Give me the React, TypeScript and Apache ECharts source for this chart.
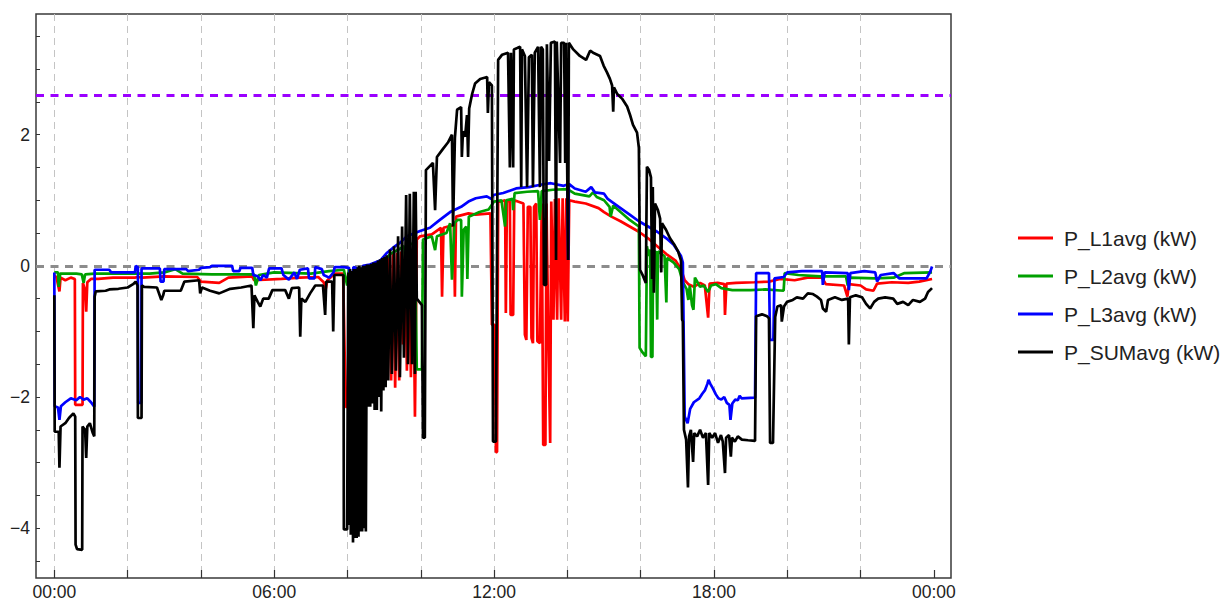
import React, { useEffect, useRef } from 'react';
import * as echarts from 'echarts';

// ---- data: [hour of day, kW] ----
const l1Data: [number, number][] = [
  [0.0, -0.14], [0.06, -0.18], [0.14, -0.39], [0.17, -0.18], [0.3, -0.22], [0.45, -0.18], [0.56, -0.2],
  [0.57, -2.12], [0.77, -2.12], [0.78, -0.26], [0.84, -0.37], [0.87, -0.7], [0.9, -0.25], [1.0, -0.2],
  [1.2, -0.2], [1.6, -0.18], [2.2, -0.18], [2.28, -0.17], [2.4, -0.18], [3.0, -0.16], [3.9, -0.17],
  [4.0, -0.24], [4.5, -0.26], [4.75, -0.18], [5.4, -0.16], [5.45, -0.22], [6.2, -0.2], [6.7, -0.18],
  [7.2, -0.17], [7.35, -0.25], [7.4, -0.37], [7.45, -0.22], [7.65, -0.12], [7.88, -0.12],
  [7.95, -2.15], [8.01, -2.15], [8.04, -0.2], [8.09, -1.9], [8.15, -0.2], [8.2, -1.85], [8.26, -0.15],
  [8.31, -1.9], [8.37, -0.1], [8.42, -2.0], [8.48, -0.1], [8.53, -1.9], [8.59, -0.05], [8.64, -1.85],
  [8.7, 0.0], [8.75, -1.8], [8.81, 0.05], [8.86, -1.75], [8.92, 0.08], [8.97, -1.8], [9.02, 0.1],
  [9.08, -1.7], [9.13, 0.15], [9.19, -1.75], [9.24, 0.2], [9.3, -1.86], [9.35, 0.2], [9.41, -1.75],
  [9.46, 0.22], [9.51, -1.2], [9.57, 0.25], [9.62, -1.6], [9.68, 0.28], [9.73, -1.7], [9.79, 0.3],
  [9.84, -2.3], [9.89, 0.4], [9.98, 0.45], [10.3, 0.48], [10.55, 0.58], [10.58, -0.47], [10.62, 0.58],
  [10.9, 0.62], [10.93, -0.47], [10.96, 0.75], [11.3, 0.8], [11.5, 0.78], [11.9, 0.8], [11.94, -0.9],
  [12.02, -0.9], [12.05, -2.84], [12.08, -2.84], [12.11, 0.97], [12.3, 1.0], [12.32, -0.72], [12.35, 1.0],
  [12.43, 0.98], [12.45, -0.75], [12.52, -0.75], [12.55, 1.0], [12.8, 0.95], [12.84, -1.05], [12.88, -1.13],
  [12.92, 0.9], [12.99, 0.9], [13.02, -1.1], [13.06, -1.18], [13.09, 0.9], [13.15, 0.95], [13.18, -1.15],
  [13.25, -1.18], [13.3, 0.95], [13.34, -2.73], [13.4, -2.73], [13.43, 0.95], [13.48, -1.1], [13.53, -2.7],
  [13.56, 0.98], [13.62, -0.82], [13.66, 1.02], [13.72, -0.82], [13.76, 1.03], [13.83, -0.82], [13.87, 1.03],
  [13.93, -0.85], [13.97, 1.03], [14.01, -0.85], [14.05, 1.0], [14.2, 0.98], [14.5, 0.95], [14.85, 0.88],
  [15.0, 0.82], [15.2, 0.75], [15.45, 0.68], [15.7, 0.6], [15.95, 0.52], [16.2, 0.42], [16.45, 0.3],
  [16.7, 0.18], [16.95, 0.08], [17.1, -0.05], [17.2, -0.22], [17.3, -0.28], [17.45, -0.32], [17.62, -0.26],
  [17.75, -0.3], [17.84, -0.79], [17.88, -0.27], [18.1, -0.26], [18.28, -0.28], [18.3, -0.75], [18.34, -0.27],
  [18.6, -0.26], [19.1, -0.25], [19.5, -0.24], [19.8, -0.2], [20.2, -0.22], [20.55, -0.18], [20.95, -0.18],
  [21.05, -0.28], [21.55, -0.3], [21.64, -0.47], [21.68, -0.28], [22.0, -0.3], [22.15, -0.36], [22.35, -0.38],
  [22.45, -0.27], [22.85, -0.25], [23.3, -0.26], [23.6, -0.24], [23.95, -0.2],
];

const l2Data: [number, number][] = [
  [0.0, -0.1], [0.1, -0.1], [0.12, -0.32], [0.16, -0.12], [0.6, -0.12], [0.75, -0.13], [0.8, -0.26],
  [0.84, -0.13], [1.1, -0.12], [2.0, -0.12], [2.6, -0.12], [3.0, -0.1], [3.3, -0.05], [3.5, -0.12],
  [4.3, -0.13], [5.45, -0.13], [5.5, -0.3], [5.58, -0.14], [6.0, -0.1], [7.0, -0.12], [7.5, -0.08],
  [7.9, -0.06], [7.99, -0.3], [8.04, -0.05], [8.15, -1.9], [8.2, -1.85], [8.26, -2.3], [8.31, -2.35],
  [8.37, -1.95], [8.42, -0.05], [8.5, -0.1], [8.61, 0.0], [8.75, -0.05], [8.89, 0.06], [9.05, 0.1],
  [9.16, 0.18], [9.3, 0.22], [9.43, 0.26], [9.55, 0.3], [9.62, -0.26], [9.66, 0.32], [9.84, 0.35],
  [9.89, -1.58], [10.03, -1.58], [10.06, 0.4], [10.3, 0.45], [10.39, 0.24], [10.44, 0.45], [10.7, 0.5],
  [10.8, 0.65], [10.85, -0.21], [10.92, 0.65], [11.0, 0.7], [11.1, 0.7], [11.12, -0.47], [11.17, 0.55],
  [11.24, 0.6], [11.27, -0.2], [11.31, 0.75], [11.6, 0.82], [11.85, 0.86], [12.0, 0.98], [12.2, 1.0],
  [12.3, 0.6], [12.33, 1.0], [12.5, 1.02], [12.52, 0.85], [12.56, 1.11], [12.9, 1.13], [13.2, 1.14],
  [13.25, 0.7], [13.3, 1.14], [13.6, 1.16], [14.0, 1.17], [14.2, 1.1], [14.6, 1.06], [14.7, 1.12],
  [14.8, 1.05], [15.0, 1.0], [15.15, 0.9], [15.18, 0.75], [15.25, 0.92], [15.45, 0.82], [15.7, 0.7],
  [15.95, 0.6], [15.97, -1.25], [16.05, -1.32], [16.14, -1.38], [16.17, 0.3], [16.22, 0.15], [16.26, 0.25],
  [16.28, -1.39], [16.32, -1.39], [16.34, 0.2], [16.42, 0.22], [16.45, -0.82], [16.47, 0.22], [16.65, 0.15],
  [16.7, -0.56], [16.72, 0.12], [16.9, 0.05], [17.05, -0.05], [17.15, -0.25], [17.25, -0.35], [17.3, -0.52],
  [17.34, -0.3], [17.4, -0.6], [17.44, -0.67], [17.48, -0.18], [17.55, -0.25], [17.62, -0.32], [17.72, -0.3],
  [17.84, -0.4], [17.92, -0.3], [18.05, -0.28], [18.2, -0.34], [18.5, -0.37], [19.0, -0.37], [19.4, -0.36],
  [19.9, -0.38], [19.93, -0.11], [20.3, -0.14], [20.9, -0.16], [21.6, -0.16], [21.65, -0.3], [21.7, -0.18],
  [22.4, -0.19], [22.9, -0.18], [23.2, -0.11], [23.95, -0.1],
];

const l3Data: [number, number][] = [
  [0.0, -0.1], [0.01, -2.14], [0.1, -2.16], [0.14, -2.35], [0.18, -2.14], [0.3, -2.08], [0.45, -2.02],
  [0.6, -2.05], [0.7, -2.0], [0.8, -2.04], [0.9, -2.02], [1.0, -2.08], [1.09, -2.15], [1.1, -0.06],
  [1.5, -0.06], [1.55, -0.1], [2.2, -0.1], [2.22, 0.0], [2.28, -0.02], [2.29, -2.09], [2.37, -2.09],
  [2.38, -0.04], [2.88, -0.04], [2.9, -0.24], [2.98, -0.24], [3.0, -0.05], [3.6, -0.05], [3.65, -0.08],
  [3.95, -0.06], [4.0, -0.03], [4.25, -0.02], [4.3, 0.0], [4.85, 0.0], [4.88, -0.08], [5.05, -0.08],
  [5.08, -0.03], [5.4, -0.03], [5.43, -0.14], [5.55, -0.16], [5.62, -0.22], [5.7, -0.14], [5.8, -0.18],
  [5.86, -0.04], [6.2, -0.04], [6.25, -0.14], [6.4, -0.21], [6.55, -0.1], [6.62, -0.2], [6.7, -0.06],
  [6.92, -0.04], [6.95, -0.19], [7.1, -0.19], [7.12, -0.02], [7.3, -0.05], [7.35, -0.14], [7.5, -0.18],
  [7.62, -0.1], [7.65, -0.02], [7.9, -0.02], [8.04, -0.03], [8.12, -0.35], [8.16, -0.02], [8.32, -0.05],
  [8.34, -0.82], [8.4, -0.82], [8.42, 0.0], [8.61, 0.02], [8.89, 0.08], [9.08, 0.2], [9.3, 0.3],
  [9.43, 0.35], [9.62, 0.45], [9.98, 0.53], [10.25, 0.58], [10.52, 0.7], [10.8, 0.82], [11.1, 0.9],
  [11.3, 0.98], [11.5, 1.03], [11.8, 1.06], [11.92, 1.02], [11.98, 1.08], [12.25, 1.11], [12.6, 1.18],
  [12.95, 1.2], [13.3, 1.24], [13.55, 1.26], [13.9, 1.22], [14.0, 1.24], [14.02, 0.09], [14.04, 1.25],
  [14.2, 1.18], [14.5, 1.13], [14.65, 1.2], [14.75, 1.12], [15.0, 1.1], [15.1, 1.02], [15.25, 0.96],
  [15.45, 0.88], [15.7, 0.78], [15.95, 0.68], [16.2, 0.6], [16.45, 0.52], [16.7, 0.42], [16.9, 0.32],
  [17.1, 0.15], [17.15, 0.05], [17.2, -2.3], [17.28, -2.4], [17.35, -2.18], [17.45, -2.08], [17.6, -2.02],
  [17.68, -1.95], [17.75, -1.9], [17.82, -1.8], [17.85, -1.74], [17.9, -1.8], [17.98, -1.88], [18.05, -1.96],
  [18.12, -2.02], [18.2, -2.04], [18.28, -2.0], [18.35, -2.09], [18.42, -2.12], [18.45, -2.35], [18.5, -2.1],
  [18.58, -2.04], [18.65, -2.05], [18.7, -1.98], [18.75, -2.02], [19.12, -2.01], [19.15, -0.11], [19.5, -0.11],
  [19.53, -1.13], [19.62, -1.13], [19.65, -0.19], [19.9, -0.17], [20.0, -0.1], [20.4, -0.08], [20.95, -0.08],
  [20.97, -0.29], [21.02, -0.1], [21.65, -0.11], [21.68, -0.37], [21.72, -0.11], [22.1, -0.08], [22.4, -0.1],
  [22.45, -0.24], [22.55, -0.14], [22.9, -0.11], [23.05, -0.19], [23.8, -0.19], [23.9, -0.09], [23.95, -0.01],
];

const sumData: [number, number][] = [
  [0.0, -0.45], [0.01, -2.53], [0.12, -2.53], [0.14, -3.08], [0.17, -2.45], [0.3, -2.4], [0.4, -2.32],
  [0.52, -2.25], [0.57, -2.3], [0.58, -4.25], [0.62, -4.32], [0.76, -4.33], [0.77, -2.45], [0.84, -2.5],
  [0.87, -2.93], [0.9, -2.45], [0.97, -2.4], [1.05, -2.55], [1.09, -2.6], [1.1, -0.47], [1.13, -0.39],
  [1.4, -0.38], [1.5, -0.36], [1.75, -0.35], [2.0, -0.33], [2.15, -0.28], [2.22, -0.24], [2.27, -0.3],
  [2.28, -2.32], [2.38, -2.32], [2.39, -0.3], [2.45, -0.32], [2.8, -0.33], [2.92, -0.52], [2.97, -0.45],
  [3.0, -0.38], [3.45, -0.38], [3.55, -0.24], [3.95, -0.22], [3.98, -0.42], [4.03, -0.33], [4.25, -0.38],
  [4.5, -0.42], [4.8, -0.35], [5.1, -0.33], [5.38, -0.3], [5.43, -0.95], [5.46, -0.45], [5.55, -0.55],
  [5.62, -0.62], [5.7, -0.5], [5.85, -0.5], [5.95, -0.37], [6.3, -0.37], [6.4, -0.5], [6.48, -0.34],
  [6.68, -0.33], [6.71, -1.08], [6.74, -0.5], [6.85, -0.55], [6.98, -0.42], [7.12, -0.3], [7.33, -0.3],
  [7.39, -0.75], [7.42, -0.24], [7.58, -0.24], [7.61, -1.0], [7.64, -0.14], [7.89, -0.14],
  [7.9, -4.02], [7.99, -4.02], [8.02, -0.1], [8.05, -3.95], [8.07, -0.05], [8.09, -4.1], [8.12, -0.08],
  [8.15, -4.22], [8.17, -0.05], [8.2, -4.15], [8.23, -0.05], [8.25, -4.15], [8.28, -0.02], [8.3, -4.13],
  [8.32, 0.0], [8.35, -4.05], [8.38, -0.02], [8.4, -4.05], [8.43, 0.0], [8.46, -4.0], [8.48, 0.0],
  [8.5, -4.05], [8.53, 0.02], [8.56, -2.15], [8.59, 0.02], [8.62, -2.15], [8.65, 0.03], [8.68, -2.1],
  [8.71, 0.05], [8.74, -2.2], [8.77, 0.05], [8.8, -2.2], [8.83, 0.08], [8.86, -2.0], [8.89, 0.1],
  [8.92, -2.22], [8.95, 0.12], [8.98, -1.9], [9.01, 0.14], [9.04, -1.85], [9.07, 0.16], [9.11, -1.75],
  [9.16, 0.25], [9.21, -1.65], [9.27, 0.3], [9.32, -1.6], [9.38, 0.45], [9.43, -1.7], [9.49, 0.6],
  [9.54, -1.4], [9.6, 1.08], [9.65, -1.5], [9.7, 1.1], [9.76, -1.5], [9.81, 1.13], [9.84, -1.65],
  [9.86, 1.13], [9.89, -0.5], [10.03, -0.6], [10.06, -2.62], [10.11, -2.62], [10.14, 1.46], [10.33, 1.57],
  [10.39, 0.85], [10.44, 1.66], [10.6, 1.78], [10.74, 1.88], [10.85, 2.0], [10.88, 0.6], [10.93, 1.95],
  [10.99, 2.38], [11.1, 2.42], [11.12, 1.66], [11.15, 2.05], [11.21, 1.97], [11.26, 2.3], [11.29, 1.66],
  [11.32, 2.4], [11.4, 2.62], [11.48, 2.78], [11.62, 2.85], [11.81, 2.88], [11.83, 2.33], [11.86, 2.8],
  [11.94, 2.75], [11.97, -2.68], [12.05, -2.68], [12.11, 3.14], [12.22, 3.22], [12.38, 3.25], [12.43, 1.5],
  [12.46, 3.25], [12.52, 1.5], [12.54, 3.3], [12.63, 3.32], [12.71, 3.34], [12.74, 1.2], [12.76, 3.3],
  [12.84, 3.2], [12.9, 1.2], [12.95, 3.18], [13.03, 3.22], [13.06, 1.2], [13.11, 3.25], [13.2, 3.34],
  [13.25, 1.2], [13.28, 3.34], [13.33, 3.3], [13.36, -0.29], [13.42, -0.29], [13.44, 3.38], [13.5, 1.6],
  [13.55, 3.4], [13.66, 3.42], [13.69, 0.09], [13.71, 3.42], [13.8, 1.57], [13.83, 3.4], [13.91, 3.4],
  [13.94, 1.57], [13.96, 3.4], [14.02, 0.09], [14.04, 3.4], [14.16, 3.3], [14.34, 3.2], [14.51, 3.14],
  [14.62, 3.28], [14.7, 3.25], [14.89, 3.2], [14.99, 3.05], [15.08, 2.95], [15.16, 2.85], [15.22, 2.75],
  [15.25, 2.35], [15.27, 2.72], [15.36, 2.62], [15.49, 2.55], [15.63, 2.43], [15.71, 2.3], [15.79, 2.15],
  [15.9, 2.03], [15.95, 1.8], [15.98, -0.06], [16.06, -0.15], [16.14, -0.26], [16.17, 1.51], [16.23, 1.46],
  [16.28, 1.35], [16.31, -0.2], [16.33, 1.2], [16.36, -0.41], [16.39, 0.95], [16.47, 0.85], [16.53, 0.72],
  [16.56, -0.1], [16.58, 0.65], [16.69, 0.55], [16.8, 0.42], [16.91, 0.33], [17.02, 0.22], [17.1, 0.08],
  [17.13, -0.82], [17.15, -0.85], [17.18, -2.5], [17.24, -2.65], [17.29, -3.38], [17.32, -2.6], [17.37, -2.5],
  [17.43, -2.99], [17.46, -2.55], [17.54, -2.6], [17.62, -2.5], [17.7, -2.62], [17.78, -2.55], [17.84, -3.34],
  [17.87, -2.55], [17.95, -2.62], [18.03, -2.55], [18.11, -2.7], [18.19, -2.58], [18.24, -2.68], [18.3, -3.16],
  [18.33, -2.62], [18.41, -2.58], [18.46, -2.91], [18.49, -2.62], [18.57, -2.68], [18.65, -2.6], [18.76, -2.65],
  [18.93, -2.66], [19.12, -2.67], [19.15, -0.77], [19.31, -0.74], [19.45, -0.77], [19.5, -0.8], [19.53, -2.7],
  [19.61, -2.7], [19.67, -0.78], [19.73, -0.62], [19.83, -0.6], [19.85, -0.85], [19.91, -0.62], [19.99, -0.55],
  [20.15, -0.52], [20.26, -0.48], [20.43, -0.5], [20.56, -0.42], [20.7, -0.43], [20.81, -0.47], [20.92, -0.52],
  [20.97, -0.65], [21.06, -0.7], [21.11, -0.52], [21.3, -0.48], [21.49, -0.52], [21.66, -0.5], [21.68, -1.2],
  [21.71, -0.48], [21.87, -0.45], [22.04, -0.48], [22.15, -0.58], [22.26, -0.65], [22.37, -0.55], [22.48, -0.5],
  [22.67, -0.48], [22.89, -0.5], [23.0, -0.58], [23.16, -0.55], [23.3, -0.6], [23.43, -0.52], [23.62, -0.55],
  [23.76, -0.5], [23.84, -0.4], [23.95, -0.34],
];

const seriesNames = ['P_L1avg (kW)', 'P_L2avg (kW)', 'P_L3avg (kW)', 'P_SUMavg (kW)'];
const seriesColors = ['#ff0000', '#00a000', '#0000ff', '#000000'];
const seriesData = [l1Data, l2Data, l3Data, sumData];
const limitValue = 2.6;
const zeroValue = 0;

const FONT = '"Liberation Sans", Arial, sans-serif';

export default function App() {
  const ref = useRef<HTMLDivElement>(null);

  useEffect(() => {
    document.body.style.margin = '0';
    const chart = echarts.init(ref.current!, null, { renderer: 'svg' });

    // frame geometry
    const fL = 36, fT = 14, fR = 951, fB = 578;
    const xMin = -0.5, xMax = 24.467, yMin = -4.76, yMax = 3.84;
    const pxPerH = (fR - fL) / (xMax - xMin);
    const pxPerV = (fB - fT) / (yMax - yMin);
    const x0 = fL + (0 - xMin) * pxPerH;
    const yTop35 = fT + (yMax - 3.5) * pxPerV;
    const yBot45 = fT + (yMax + 4.5) * pxPerV;

    const option: any = {
      animation: false,
      textStyle: { fontFamily: FONT },
      grid: [
        { left: fL, top: fT, width: fR - fL, height: fB - fT, show: true, borderColor: '#3a3a3a', borderWidth: 1.5, backgroundColor: 'transparent' },
        { left: x0, top: fT, width: 24 * pxPerH, height: fB - fT },
        { left: fL, top: yTop35, width: fR - fL, height: yBot45 - yTop35 },
      ],
      xAxis: [
        { gridIndex: 0, type: 'value', min: xMin, max: xMax, show: false },
        {
          gridIndex: 1, type: 'value', min: 0, max: 24, interval: 2,
          axisLine: { show: false },
          axisTick: { show: true, inside: true, length: 8, lineStyle: { color: '#333', width: 1.2 } },
          axisLabel: {
            margin: 5, fontSize: 17.5, color: '#222', fontFamily: FONT,
            formatter: (v: number) => (v % 6 === 0 ? String(v % 24).padStart(2, '0') + ':00' : ''),
          },
          splitLine: { show: true, showMaxLine: false, lineStyle: { color: '#c4c4c4', type: [7, 5], width: 1 } },
        },
        { gridIndex: 2, type: 'value', min: 0, max: 1, show: false },
      ],
      yAxis: [
        { gridIndex: 0, type: 'value', min: yMin, max: yMax, show: false },
        { gridIndex: 1, type: 'value', min: 0, max: 1, show: false },
        {
          gridIndex: 2, type: 'value', min: -4.5, max: 3.5, interval: 0.5,
          axisLine: { show: false },
          axisTick: { show: true, inside: true, length: 4, lineStyle: { color: '#333', width: 1 } },
          axisLabel: {
            margin: 6, fontSize: 17.5, color: '#222', fontFamily: FONT,
            formatter: (v: number) => (Math.abs(v % 2) < 1e-9 ? (v < 0 ? '\u2212' + Math.abs(v) : String(v)) : ''),
          },
          splitLine: { show: false },
        },
      ],
      legend: {
        orient: 'vertical', left: 1018, top: 226, padding: 0, itemWidth: 35, itemHeight: 3, itemGap: 14,
        icon: 'rect', selectedMode: false,
        textStyle: { fontSize: 21, color: '#222', fontFamily: FONT, lineHeight: 24, padding: [0, 0, 0, 6] },
        data: seriesNames,
      },
      series: seriesNames.map((name, i) => ({
        name, type: 'line', xAxisIndex: 0, yAxisIndex: 0, data: seriesData[i],
        showSymbol: false, symbol: 'none', color: seriesColors[i],
        lineStyle: { color: seriesColors[i], width: 2.7 }, z: 3 + i,
        ...(i === 0 ? {
          markLine: {
            silent: true, symbol: ['none', 'none'], label: { show: false }, z: 2,
            data: [
              { yAxis: limitValue, lineStyle: { color: '#9b00ff', type: [8, 6.5], width: 3 } },
              { yAxis: zeroValue, lineStyle: { color: '#8c8c8c', type: [8, 6.5], width: 3 } },
            ],
          },
        } : {}),
      })),
    };
    chart.setOption(option);
    return () => chart.dispose();
  }, []);

  return <div ref={ref} style={{ width: 1226, height: 601 }} />;
}
